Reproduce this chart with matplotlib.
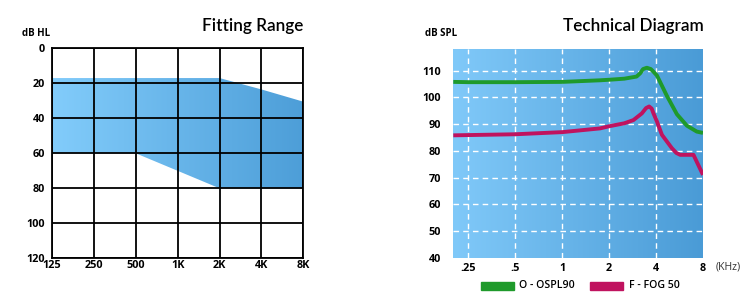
import numpy as np
import matplotlib
matplotlib.use("Agg")
import matplotlib.pyplot as plt
from matplotlib.colors import LinearSegmentedColormap
from matplotlib.patches import Rectangle

plt.rcParams['font.family'] = ['Open Sans', 'DejaVu Sans']

# ---------------- Data ----------------
# Fitting range (audiogram)
fit_freqs = [125, 250, 500, 1000, 2000, 4000, 8000]
fit_freq_labels = ["125", "250", "500", "1K", "2K", "4K", "8K"]
fit_upper = [17, 17, 17, 17, 17, 23.5, 30.5]   # dB HL, top edge of range
fit_lower = [60, 60, 60, 70, 80, 80, 80]       # dB HL, bottom edge of range
hl_ticks = [0, 20, 40, 60, 80, 100, 120]

# Technical diagram
spl_ticks = [40, 50, 60, 70, 80, 90, 100, 110]
khz_ticks = [0.25, 0.5, 1, 2, 4, 8]
khz_labels = [".25", ".5", "1", "2", "4", "8"]

ospl_f = [0.2, 0.25, 0.5, 1.0, 1.75, 2.0, 2.5, 3.0, 3.16, 3.3, 3.49, 3.7, 3.85, 4.05, 4.69, 5.44, 6.31, 7.3, 8.0]
ospl_v = [105.8, 105.7, 105.7, 105.8, 106.4, 106.6, 107.0, 107.8, 109.0, 110.6, 111.1, 110.6, 109.6, 108.2, 100.6, 93.7, 89.4, 87.2, 86.7]

fog_f = [0.2, 0.5, 1.0, 1.75, 2.0, 2.5, 2.86, 3.24, 3.45, 3.61, 3.75, 3.85, 4.05, 4.36, 5.05, 5.4, 5.71, 6.95, 8.0]
fog_v = [85.8, 86.2, 87.0, 88.4, 89.2, 90.3, 91.5, 94.0, 96.0, 96.6, 95.8, 94.0, 91.0, 86.0, 81.0, 79.2, 78.5, 78.5, 71.0]

green = "#1f9a2b"
magenta = "#c0135f"

W, H = 750, 306
fig = plt.figure(figsize=(W / 100, H / 100), dpi=100)

def ax_rect(x0, y0, x1, y1):
    return [x0 / W, 1 - y1 / H, (x1 - x0) / W, (y1 - y0) / H]

grad = np.linspace(0, 1, 256).reshape(1, -1)
TICK_FS = 7.8
TITLE_FONT = ['Lato', 'DejaVu Sans']
TITLE_FS = 12.3

# ---------------- Left: Fitting Range ----------------
ax1 = fig.add_axes(ax_rect(52, 48.3, 303.3, 258.3))
ax1.set_xscale('log', base=2)
ax1.set_xlim(fit_freqs[0], fit_freqs[-1])
ax1.set_ylim(120, 0)
cmap_fit = LinearSegmentedColormap.from_list('fit', ["#82ccfb", "#4d9ed8"])
poly = ax1.fill_between(fit_freqs, fit_upper, fit_lower, color='none', lw=0)
img = ax1.imshow(grad, extent=[0, 1, 0, 1], transform=ax1.transAxes, aspect='auto',
                 cmap=cmap_fit, zorder=1)
img.set_clip_path(poly.get_paths()[0], transform=ax1.transData)
ax1.set_xticks(fit_freqs)
ax1.set_xticklabels(fit_freq_labels)
ax1.set_yticks(hl_ticks)
ax1.set_yticklabels([str(t) for t in hl_ticks])
ax1.minorticks_off()
ax1.grid(True, color='black', lw=1.3, zorder=2)
ax1.set_axisbelow(False)
for s in ax1.spines.values():
    s.set_color('black')
    s.set_linewidth(1.3)
    s.set_zorder(3)
ax1.tick_params(length=0, labelsize=TICK_FS, pad=5)
ax1.tick_params(axis='x', pad=1)
for lab in ax1.get_xticklabels() + ax1.get_yticklabels():
    lab.set_fontweight('bold')
fig.text(50 / W, 1 - 34 / H, "dB HL", fontsize=7.0,
         fontweight='bold', ha='right', va='center')
fig.text(303 / W, 1 - 26 / H, "Fitting Range", fontsize=TITLE_FS, ha='right', va='center',
         family=TITLE_FONT, fontweight='semibold')

# ---------------- Right: Technical Diagram ----------------
ax2 = fig.add_axes(ax_rect(453.3, 49.3, 703, 257.7))
ax2.set_xscale('log', base=2)
ax2.set_xlim(0.2, 8)
ax2.set_ylim(40, 118)
cmap_tech = LinearSegmentedColormap.from_list('tech', ["#80c9f9", "#4a9bd6"])
ax2.imshow(grad, extent=[0, 1, 0, 1], transform=ax2.transAxes, aspect='auto',
           cmap=cmap_tech, zorder=0)
for x in khz_ticks[:-1]:
    ax2.axvline(x, color='white', lw=1.0, ls=(0, (4, 3)), zorder=1)
for y in spl_ticks[1:]:
    ax2.axhline(y, color='white', lw=1.0, ls=(0, (4, 3)), zorder=1)
ax2.plot(ospl_f, ospl_v, color=green, lw=2.8, solid_joinstyle='round',
         solid_capstyle='butt', zorder=3)
ax2.plot(fog_f, fog_v, color=magenta, lw=2.8, solid_joinstyle='round',
         solid_capstyle='butt', zorder=3)
ax2.set_xticks(khz_ticks)
ax2.set_xticklabels(khz_labels)
ax2.set_yticks(spl_ticks)
ax2.set_yticklabels([str(t) for t in spl_ticks])
ax2.minorticks_off()
for s in ax2.spines.values():
    s.set_visible(False)
ax2.tick_params(length=0, labelsize=TICK_FS, pad=9)
ax2.tick_params(axis='x', pad=4)
for lab in ax2.get_xticklabels() + ax2.get_yticklabels():
    lab.set_fontweight('bold')
fig.text(425 / W, 1 - 34 / H, "dB SPL", fontsize=7.0, fontweight='bold',
         ha='left', va='center')
fig.text(716 / W, 1 - 267 / H, "(KHz)", fontsize=7.6, ha='left', va='center', color='#333333')
fig.text(704 / W, 1 - 26 / H, "Technical Diagram", fontsize=TITLE_FS, ha='right', va='center',
         family=TITLE_FONT, fontweight='semibold')

# Legend
fig.patches.append(Rectangle((481 / W, 1 - 289.5 / H), 32.5 / W, 8 / H,
                             transform=fig.transFigure, color=green))
fig.text(519 / W, 1 - 285.5 / H, "O - OSPL90", fontsize=7.6, fontweight='semibold',
         ha='left', va='center')
fig.patches.append(Rectangle((590 / W, 1 - 289.5 / H), 32.5 / W, 8 / H,
                             transform=fig.transFigure, color=magenta))
fig.text(629 / W, 1 - 285.5 / H, "F - FOG 50", fontsize=7.6, fontweight='semibold',
         ha='left', va='center')

fig.savefig("out.png", dpi=100)
